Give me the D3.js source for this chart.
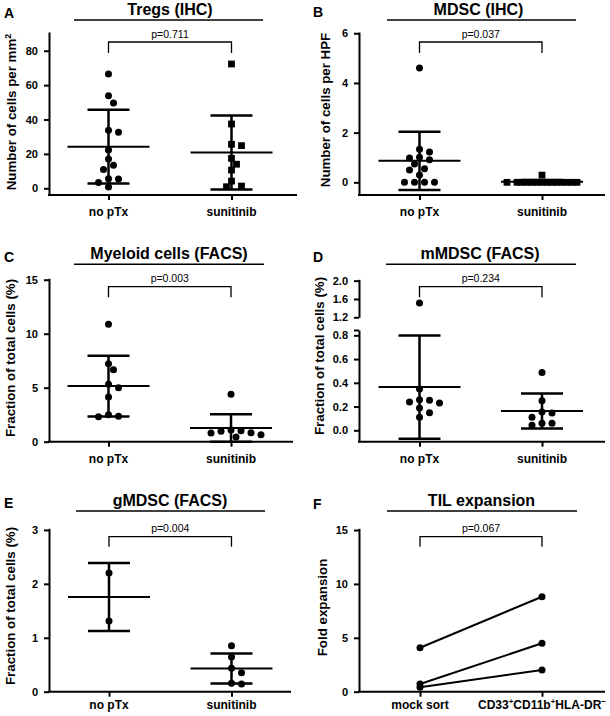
<!DOCTYPE html>
<html><head><meta charset="utf-8">
<script src="https://cdn.jsdelivr.net/npm/d3@7"></script>
<style>
body{margin:0;background:#fff;}
svg text{font-family:"Liberation Sans",Arial,sans-serif;fill:#000;}
</style></head><body>
<svg id="chart" width="610" height="716"></svg>
<script>
// ---------------- DATA ----------------
const groups = ["no pTx", "sunitinib"];
const tilCategories = ["mock sort", "CD33+CD11b+HLA-DR-"];

const tregsNoPTx = [66.5, 53.8, 49.6, 33.7, 32.6, 22.3, 17.0, 13.4, 11.0, 5.4, 3.3, 5.6, 0.8];
const tregsSunitinib = [72.3, 37.4, 25.6, 24.8, 17.4, 14.0, 10.6, 4.2, 0.9, 1.3];

const mdscNoPTx = [4.60, 1.33, 1.22, 1.01, 0.91, 0.98, 0.74, 0.55, 0.50, 0.29, 0, 0, 0, 0];
const mdscSunitinib = [0.29, 0, 0, 0, 0, 0, 0, 0, 0, 0, 0, 0, 0, 0, 0];

const myeloidNoPTx = [10.87, 7.22, 6.67, 5.31, 5.00, 4.14, 2.50, 2.31, 2.35];
const myeloidSunitinib = [4.39, 1.08, 0.96, 0.81, 0.44, 0.65, 0.83, 1.02];

const mmdscNoPTx = [1.51, 0.348, 0.258, 0.238, 0.230, 0.253, 0.188, 0.148, 0.109];
const mmdscSunitinib = [0.488, 0.249, 0.154, 0.146, 0.109, 0.059, 0.042, 0.059];

const gmdscNoPTx = [2.20, 1.31];
const gmdscSunitinib = [0.853, 0.644, 0.434, 0.353, 0.143, 0.156];

const tilMockSort = [4.08, 0.71, 0.41];
const tilSorted = [8.81, 4.49, 2.01];

const panelLetters = ["A", "B", "C", "D", "E", "F"];
const panelTitles = ["Tregs (IHC)", "MDSC (IHC)", "Myeloid cells (FACS)", "mMDSC (FACS)", "gMDSC (FACS)", "TIL expansion"];
const yLabels = ["Number of cells per mm", "Number of cells per HPF", "Fraction of total cells (%)",
                 "Fraction of total cells (%)", "Fraction of total cells (%)", "Fold expansion"];
const pValues = ["p=0.711", "p=0.037", "p=0.003", "p=0.234", "p=0.004", "p=0.067"];

const ticksA = [0, 20, 40, 60, 80];
const ticksB = [0, 2, 4, 6];
const ticksC = [0, 5, 10, 15];
const ticksDLower = [0, 0.2, 0.4, 0.6, 0.8];
const ticksDUpper = [1.2, 1.6, 2.0];
const ticksE = [0, 1, 2, 3];
const ticksF = [0, 5, 10, 15];

// ---------------- LAYOUT ----------------
const layout = [
  {letter:[4,18.3], titleX:170, ulY:20, ul:[74,263], axX:49, axEnd:297, top:32, bottom:195, cats:[108.5,231.5],
   ylabX:16, ylabY:112, brTop:42, brBot:53, catDy:21, domain:[-3.9,90.9]},
  {letter:[313,16.7], titleX:478.5, ulY:20, ul:[387,576], axX:359, axEnd:605, top:32, bottom:195, cats:[419.5,542],
   ylabX:330, ylabY:110, brTop:42, brBot:53, catDy:21, domain:[-0.51,6.05]},
  {letter:[4,261.7], titleX:169, ulY:264.3, ul:[74,264], axX:49, axEnd:293, top:278.3, bottom:441.7, cats:[108.5,231],
   ylabX:15, ylabY:358, brTop:286.7, brBot:297.3, catDy:21, domain:[0,15.13]},
  {letter:[313,261.7], titleX:480, ulY:264.3, ul:[386,576], axX:359, axEnd:605, top:279.3, bottom:441.7, cats:[419.5,542],
   ylabX:324, ylabY:356, brTop:286.7, brBot:297.3, catDy:21,
   lower:{range:[441.7,330], domain:[-0.096,0.845]}, upper:{range:[317.3,279.3], domain:[1.2,2.03]}},
  {letter:[4,508], titleX:170, ulY:511, ul:[76,265], axX:49, axEnd:291, top:528.3, bottom:691.7, cats:[109,231.5],
   ylabX:15, ylabY:606, brTop:536.7, brBot:546.7, catDy:17, domain:[0,3.03]},
  {letter:[313,509], titleX:481.5, ulY:511, ul:[387,577], axX:359, axEnd:605, top:528.3, bottom:691.7, cats:[420,542],
   ylabX:327, ylabY:607.5, brTop:536.7, brBot:546.7, catDy:17, domain:[0,15.16]}
];

const svg = d3.select("#chart");

function swarm(ys, step, minDist, maxOff) {
  const idx = ys.map((y, i) => i).sort((a, b) => ys[a] - ys[b]);
  const placed = [], offs = new Array(ys.length);
  const cands = [0];
  for (let k = 1; k * step <= maxOff; k++) cands.push(k * step, -k * step);
  for (const i of idx) {
    let best = 0, bestD = -1;
    for (const c of cands) {
      let md = Infinity;
      for (const p of placed) { const d = Math.hypot(c - p.x, ys[i] - p.y); if (d < md) md = d; }
      if (md >= minDist) { best = c; bestD = md; break; }
      if (md > bestD) { bestD = md; best = c; }
    }
    offs[i] = best; placed.push({x: best, y: ys[i]});
  }
  return offs;
}

function styleAxis(g) {
  g.select(".domain").attr("stroke", "#000").attr("stroke-width", 2);
  g.selectAll(".tick line").attr("stroke", "#000").attr("stroke-width", 2);
  g.selectAll(".tick text").style("font-size", "11px").style("font-weight", "bold")
    .style("font-family", '"Liberation Sans", Arial, sans-serif').attr("fill", "#000");
}

function drawFrame(i, cats, yFn, yAxes) {
  const L = layout[i];
  const g = svg.append("g");
  g.append("text").attr("x", L.letter[0]).attr("y", L.letter[1]).text(panelLetters[i])
    .style("font-size", "14px").style("font-weight", "bold");
  g.append("text").attr("x", L.titleX).attr("y", L.ulY - 5).attr("text-anchor", "middle")
    .text(panelTitles[i]).style("font-size", "16px").style("font-weight", "bold");
  g.append("line").attr("x1", L.ul[0]).attr("x2", L.ul[1]).attr("y1", L.ulY).attr("y2", L.ulY)
    .attr("stroke", "#000").attr("stroke-width", 1.5);

  const x = d3.scalePoint().domain(cats).range(L.cats);

  yAxes.forEach(ax => {
    const ag = g.append("g").attr("transform", `translate(${L.axX},0)`)
      .call(d3.axisLeft(ax.scale).tickValues(ax.ticks).tickSize(5).tickSizeOuter(0).tickPadding(6)
        .tickFormat(ax.fmt || d3.format("d")));
    styleAxis(ag);
  });

  // x axis line + ticks
  g.append("line").attr("x1", L.axX - 1).attr("x2", L.axEnd).attr("y1", L.bottom).attr("y2", L.bottom)
    .attr("stroke", "#000").attr("stroke-width", 2);
  const xg = g.append("g").attr("transform", `translate(0,${L.bottom})`)
    .call(d3.axisBottom(x).tickSize(5).tickFormat(""));
  xg.select(".domain").remove();
  styleAxis(xg);

  // category labels
  cats.forEach(c => {
    const t = g.append("text").attr("x", x(c)).attr("y", L.bottom + L.catDy).attr("text-anchor", "middle")
      .style("font-size", "12px").style("font-weight", "bold");
    const m = c.match(/^CD33\+CD11b\+HLA-DR-$/);
    if (m) {
      t.append("tspan").text("CD33");
      t.append("tspan").attr("dy", -5).style("font-size", "8px").text("+");
      t.append("tspan").attr("dy", 5).text("CD11b");
      t.append("tspan").attr("dy", -5).style("font-size", "8px").text("+");
      t.append("tspan").attr("dy", 5).text("HLA-DR");
      t.append("tspan").attr("dy", -5).style("font-size", "8px").text("\u2212");
    } else {
      t.text(c);
    }
  });

  // bracket
  const x0 = x(cats[0]), x1 = x(cats[1]);
  g.append("path").attr("d", `M${x0},${L.brBot}V${L.brTop}H${x1}V${L.brBot}`)
    .attr("fill", "none").attr("stroke", "#000").attr("stroke-width", 1.3);
  g.append("text").attr("x", (x0 + x1) / 2).attr("y", L.brTop - 4.5).attr("text-anchor", "middle")
    .text(pValues[i]).style("font-size", "10.5px");

  // y label
  const yl = g.append("text").attr("transform", `translate(${L.ylabX},${L.ylabY}) rotate(-90)`)
    .attr("text-anchor", "middle").style("font-size", "13.3px").style("font-weight", "bold");
  yl.append("tspan").text(yLabels[i]);
  if (i === 0) yl.append("tspan").attr("dy", -5).style("font-size", "9px").text("2");

  return {g, x};
}

function drawScatter(i, seriesList, shapes, yFn, yAxes) {
  const {g, x} = drawFrame(i, groups, yFn, yAxes);
  seriesList.forEach((vals, k) => {
    const cx = x(groups[k]);
    const mean = d3.mean(vals), sd = d3.deviation(vals);
    // SD bar
    const yHi = yFn(mean + sd), yLo = yFn(mean - sd);
    g.append("line").attr("x1", cx).attr("x2", cx).attr("y1", yHi).attr("y2", yLo)
      .attr("stroke", "#000").attr("stroke-width", 2.5);
    [yHi, yLo].forEach(yy => g.append("line").attr("x1", cx - 21).attr("x2", cx + 21)
      .attr("y1", yy).attr("y2", yy).attr("stroke", "#000").attr("stroke-width", 2.5));
    // mean
    g.append("line").attr("x1", cx - 41).attr("x2", cx + 41).attr("y1", yFn(mean)).attr("y2", yFn(mean))
      .attr("stroke", "#000").attr("stroke-width", 2);
    // points
    const ys = vals.map(yFn);
    const offs = swarm(ys, 5, 7.5, 40);
    vals.forEach((v, j) => {
      if (shapes[k] === "square") {
        g.append("rect").attr("x", cx + offs[j] - 3.4).attr("y", ys[j] - 3.4)
          .attr("width", 6.8).attr("height", 6.8).attr("fill", "#000");
      } else {
        g.append("circle").attr("cx", cx + offs[j]).attr("cy", ys[j]).attr("r", 3.5).attr("fill", "#000");
      }
    });
  });
}

function linearY(i) {
  const L = layout[i];
  return d3.scaleLinear().domain(L.domain).range([L.bottom, L.top]);
}

// A
{ const y = linearY(0);
  drawScatter(0, [tregsNoPTx, tregsSunitinib], ["circle", "square"], y, [{scale: y, ticks: ticksA}]); }
// B
{ const y = linearY(1);
  drawScatter(1, [mdscNoPTx, mdscSunitinib], ["circle", "square"], y, [{scale: y, ticks: ticksB}]); }
// C
{ const y = linearY(2);
  drawScatter(2, [myeloidNoPTx, myeloidSunitinib], ["circle", "circle"], y, [{scale: y, ticks: ticksC}]); }
// D (broken axis)
{ const L = layout[3];
  const yLow = d3.scaleLinear().domain(L.lower.domain).range(L.lower.range);
  const yUp = d3.scaleLinear().domain(L.upper.domain).range(L.upper.range);
  const yFn = v => v >= 1.0 ? yUp(v) : yLow(v);
  const f = d3.format(".1f");
  drawScatter(3, [mmdscNoPTx, mmdscSunitinib], ["circle", "circle"], yFn,
    [{scale: yLow, ticks: ticksDLower.concat([L.lower.domain[1]]), fmt: v => v > 0.81 ? "" : f(v)},
     {scale: yUp, ticks: ticksDUpper, fmt: f}]);
}
// E
{ const y = linearY(4);
  drawScatter(4, [gmdscNoPTx, gmdscSunitinib], ["circle", "circle"], y, [{scale: y, ticks: ticksE}]); }
// F
{ const y = linearY(5);
  const {g, x} = drawFrame(5, tilCategories, y, [{scale: y, ticks: ticksF}]);
  const pairs = tilMockSort.map((v, j) => [v, tilSorted[j]]);
  const line = d3.line().x((d, k) => x(tilCategories[k])).y(d => y(d));
  pairs.forEach(p => g.append("path").attr("d", line(p)).attr("fill", "none")
    .attr("stroke", "#000").attr("stroke-width", 2));
  pairs.forEach(p => p.forEach((v, k) => g.append("circle").attr("cx", x(tilCategories[k]))
    .attr("cy", y(v)).attr("r", 3.5).attr("fill", "#000")));
}
</script>
</body></html>
